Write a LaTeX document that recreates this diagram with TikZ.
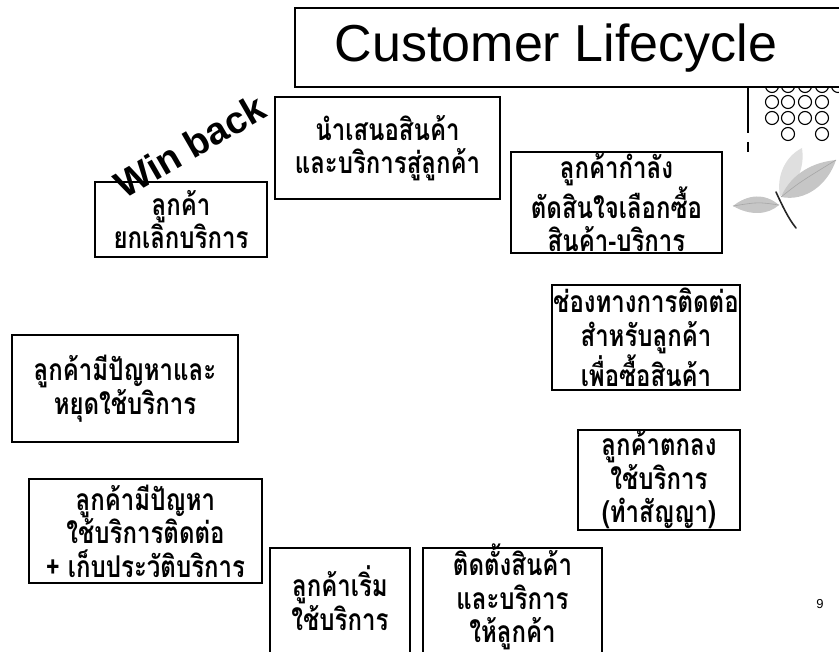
\documentclass[tikz,border=0pt]{standalone}
\usepackage{fontspec}
\newfontfamily\thai[Script=Thai, FakeStretch=0.80]{Loma}
\newfontfamily\headfont{Liberation Sans}
\begin{document}
\begin{tikzpicture}[x=1pt,y=-1pt,
  stagetext/.style={inner sep=0pt, align=center,
    font=\thai\bfseries\fontsize{30}{33.5}\selectfont},
  stagebox/.style={stagetext, draw=black, line width=1.3pt, fill=white},
  frame/.style={draw=black, line width=1.3pt, fill=white, inner sep=0pt},
  ring/.style={draw=black, line width=1.1pt},
  leaf/.style={fill=gray!45, draw=none}]
\useasboundingbox (0,0) rectangle (839,652);
\clip (0,0) rectangle (839,652);

% dotted ornament at the upper right
\foreach \cx in {772,788,805,822,838} \draw[ring] (\cx,86) circle (6.5);
\foreach \cy in {102,118} \foreach \cx in {772,788,805,822} \draw[ring] (\cx,\cy) circle (6.5);
\foreach \cx in {788,822} \draw[ring] (\cx,134) circle (6.5);
\draw[line width=1.2pt] (748,87) -- (748,133);
\draw[line width=1.2pt] (748,142) -- (748,152);

% leaf sprig
\fill[leaf, fill=gray!25] (780,196) .. controls (776,175) and (786,156) .. (802,148)
  .. controls (805,168) and (797,186) .. (780,196) -- cycle;
\fill[leaf] (781,197) .. controls (792,172) and (815,162) .. (836,160)
  .. controls (828,184) and (806,202) .. (781,197) -- cycle;
\fill[leaf] (779,205) .. controls (765,193) and (748,194) .. (733,206)
  .. controls (750,216) and (768,215) .. (779,205) -- cycle;
\draw[gray!70, line width=0.6pt] (781,197) .. controls (800,182) .. (836,160);
\draw[gray!70, line width=0.6pt] (779,205) .. controls (758,202) .. (733,206);
\draw[black!85, line width=1.6pt, line cap=round] (776,192) .. controls (782,205) and (788,218) .. (796,228);

% title
\node[draw=black, line width=1.6pt, fill=white, minimum width=565pt, minimum height=79pt,
  inner sep=0pt] (title) at (577.5,47.5) {};
\node[font=\headfont\fontsize{52}{60}\selectfont, anchor=center] (titletext) at (556,48) {Customer Lifecycle};

% stages of the lifecycle
\node[stagebox, minimum width=225pt, minimum height=102pt] (offer) at (387.5,148)
  {นำเสนอสินค้า\\และบริการสู่ลูกค้า};
\node[stagebox, minimum width=211pt, minimum height=101pt] (decide) at (616.5,202.5)
  {ลูกค้ากำลัง\\ตัดสินใจเลือกซื้อ\\สินค้า-บริการ};
\node[stagebox, minimum width=172pt, minimum height=75pt] (cancel) at (181,219.5)
  {ลูกค้า\\ยกเลิกบริการ};
\node[stagebox, minimum width=188pt, minimum height=105pt] (channel) at (646,337.5)
  {ช่องทางการติดต่อ\\สำหรับลูกค้า\\เพื่อซื้อสินค้า};
\node[stagebox, minimum width=226pt, minimum height=107pt] (stop) at (125,388.5)
  {ลูกค้ามีปัญหาและ\\หยุดใช้บริการ};
\node[stagebox, minimum width=162pt, minimum height=100pt] (agree) at (659,480)
  {ลูกค้าตกลง\\ใช้บริการ\\(ทำสัญญา)};
\node[stagebox, minimum width=233pt, minimum height=104pt] (problem) at (145.5,531)
  {ลูกค้ามีปัญหา\\ใช้บริการติดต่อ\\+ เก็บประวัติบริการ};

% the two bottom boxes run past the lower edge
\node[frame, minimum width=140pt, minimum height=122pt] (startframe) at (340,609) {};
\node[stagetext] (start) at (340,598) {ลูกค้าเริ่ม\\ใช้บริการ};
\node[frame, minimum width=179pt, minimum height=122pt] (installframe) at (512.5,609) {};
\node[stagetext] (install) at (512.5,597) {ติดตั้งสินค้า\\และบริการ\\ให้ลูกค้า};

% slanted label
\node[font=\headfont\bfseries\fontsize{38}{42}\selectfont, rotate=30] (winback) at (190,146) {Win back};

% page number
\node[font=\headfont\fontsize{13}{15}\selectfont] (pagenum) at (820,604) {9};
\end{tikzpicture}
\end{document}
